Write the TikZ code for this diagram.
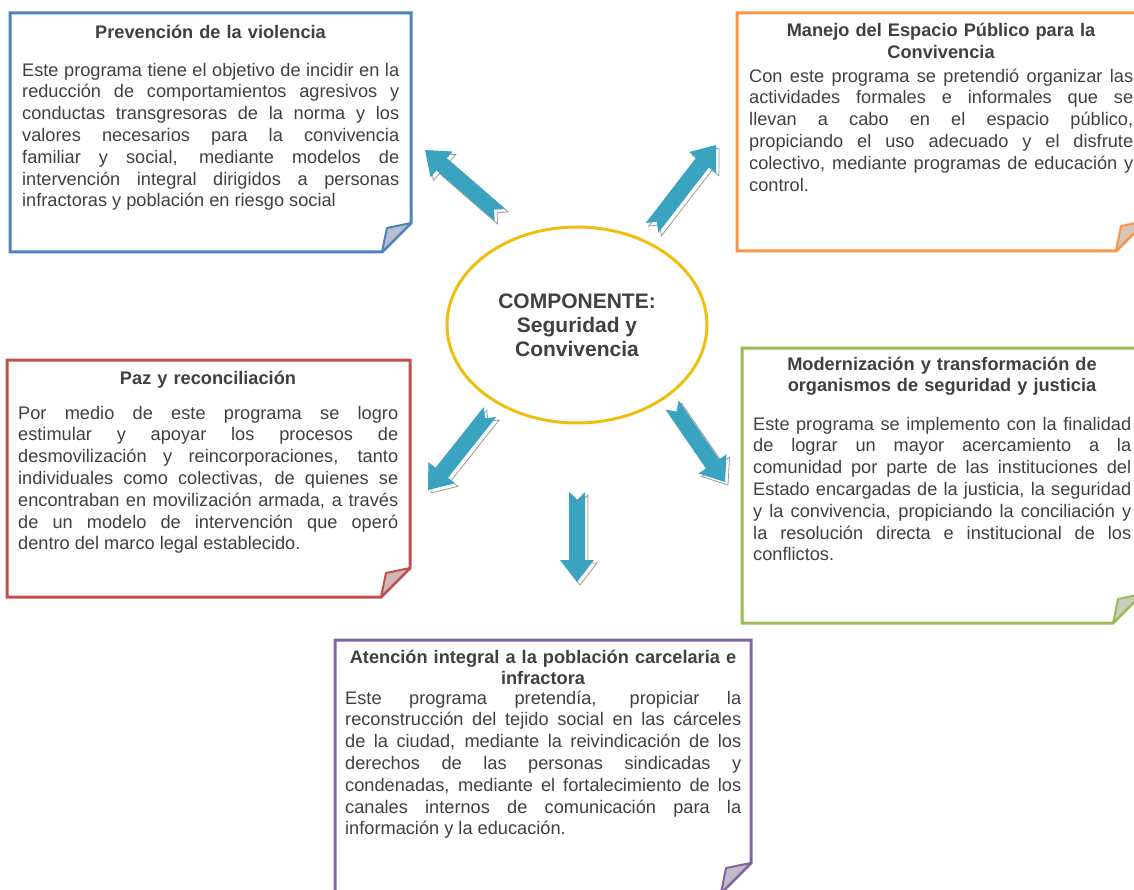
\documentclass[tikz,border=0pt]{standalone}
\usepackage{fontspec}
\setmainfont{Liberation Sans}
\usetikzlibrary{calc,shapes.geometric}

\definecolor{ink}{HTML}{404040}
\definecolor{cblue}{HTML}{4F81BD}
\definecolor{corange}{HTML}{F79646}
\definecolor{cred}{HTML}{C0504D}
\definecolor{cgreen}{HTML}{9BBB59}
\definecolor{cpurple}{HTML}{8064A2}
\definecolor{cgold}{HTML}{F0BE10}
\definecolor{cteal}{HTML}{3AA3C0}

\newcommand\cardbodyfont{\fontsize{18.2}{21.8}\selectfont\tolerance=10000\hyphenpenalty=10000\relax}
\newcommand\cardheadfont{\bfseries\fontsize{18.2}{21.8}\selectfont}

% block arrow dimensions
\newcommand\arrSW{8pt}    % half shaft width
\newcommand\arrHW{17pt}   % half head width
\newcommand\arrHL{22pt}   % head length
\newcommand\arrNotch{8pt} % depth of the tail notch

% outline of a notched block arrow from tail #1 to head #2
\newcommand\arrowoutline[3]{%
  \path[#3] ($(#1)!\arrSW!90:(#2)$) -- ($(#1b)!\arrSW!90:(#2)$) -- ($(#1b)!\arrHW!90:(#2)$)
    -- (#2) -- ($(#1b)!\arrHW!270:(#2)$) -- ($(#1b)!\arrSW!270:(#2)$)
    -- ($(#1)!\arrSW!270:(#2)$) -- (#1n) -- cycle;
}
\newcommand\flowarrow[2]{%
  \coordinate (#1b) at ($(#2)!\arrHL!(#1)$);
  \coordinate (#1n) at ($(#1)!\arrNotch!(#2)$);
  \begin{scope}[transform canvas={shift={(3,3)}}]
    \arrowoutline{#1}{#2}{arrowshadow}
  \end{scope}
  \arrowoutline{#1}{#2}{arrowbody}
}

% note card with a curled lower right corner: colour, NW corner, SE corner, fold size
\newcommand\notecard[4]{%
  \path[cardline=#1] (#2) -- (#2 -| #3) -- ($(#3)+(0,-#4)$) -- ($(#3)+(-#4,0)$) -- (#2 |- #3) -- cycle;
  \path[cardfold=#1] ($(#3)+(-#4,0)$) -- ($(#3)+(-#4+5,-#4+5)$) -- ($(#3)+(0,-#4)$) -- cycle;
}

\begin{document}
\begin{tikzpicture}[x=1pt,y=-1pt,
  cardline/.style={draw=#1, line width=3pt, fill=white, line join=miter},
  cardfold/.style={draw=#1, line width=2pt, fill=#1!60!black!35!white, line join=round},
  cardhead/.style={anchor=north, inner sep=0pt, text width=#1, align=center, font=\cardheadfont, text=ink},
  cardbody/.style={anchor=north west, inner sep=0pt, text width=#1, align=justify, font=\cardbodyfont, text=ink},
  hub/.style={ellipse, draw=cgold, line width=3pt, fill=white, minimum width=260pt, minimum height=196pt,
    inner sep=0pt, align=center, text=ink, font=\bfseries\fontsize{21}{24}\selectfont},
  arrowbody/.style={fill=cteal},
  arrowshadow/.style={fill=white, draw=black!40, line width=0.8pt},
]
\useasboundingbox (0,0) rectangle (1134,890);
\clip (0,0) rectangle (1134,890);
\fill[white] (0,0) rectangle (1134,890);

% card corners
\coordinate (pv-nw) at (10,13);   \coordinate (pv-se) at (411,252);
\coordinate (ep-nw) at (737,13);  \coordinate (ep-se) at (1146,251);
\coordinate (pz-nw) at (7,360);   \coordinate (pz-se) at (410,597);
\coordinate (mo-nw) at (742,348); \coordinate (mo-se) at (1142,623);
\coordinate (at-nw) at (335,640); \coordinate (at-se) at (751,893);

\notecard{cblue}{pv-nw}{pv-se}{29}
\notecard{corange}{ep-nw}{ep-se}{30}
\notecard{cred}{pz-nw}{pz-se}{29}
\notecard{cgreen}{mo-nw}{mo-se}{29}
\notecard{cpurple}{at-nw}{at-se}{30}

% Prevención de la violencia
\node[cardhead=377pt] (pv-title) at (210.5,22.7) {\strut Prevención de la violencia};
\node[cardbody=377pt] (pv-text) at (22,60.7) {\strut Este programa tiene el objetivo de incidir en la\linebreak
reducción de comportamientos agresivos y\linebreak
conductas transgresoras de la norma y los\linebreak
valores necesarios para la convivencia\linebreak
familiar y social, mediante modelos de\linebreak
intervención integral dirigidos a personas\linebreak
infractoras y población en riesgo social};

% Manejo del Espacio Público para la Convivencia
\node[cardhead=384pt] (ep-title) at (941,21.2) {\strut Manejo del Espacio Público para la\\Convivencia};
\node[cardbody=384pt] (ep-text) at (749,66.7) {\strut Con este programa se pretendió organizar las\linebreak
actividades formales e informales que se\linebreak
llevan a cabo en el espacio público,\linebreak
propiciando el uso adecuado y el disfrute\linebreak
colectivo, mediante programas de educación y\linebreak
control.};

% Paz y reconciliación
\node[cardhead=380pt] (pz-title) at (208,368.7) {\strut Paz y reconciliación};
\node[cardbody=380pt] (pz-text) at (18,403.7) {\strut Por medio de este programa se logro\linebreak
estimular y apoyar los procesos de\linebreak
desmovilización y reincorporaciones, tanto\linebreak
individuales como colectivas, de quienes se\linebreak
encontraban en movilización armada, a través\linebreak
de un modelo de intervención que operó\linebreak
dentro del marco legal establecido.};

% Modernización y transformación de organismos de seguridad y justicia
\node[cardhead=378pt] (mo-title) at (942,354.7) {\strut Modernización y transformación de\\organismos de seguridad y justicia};
\node[cardbody=378pt] (mo-text) at (753,414.7) {\strut Este programa se implemento con la finalidad\linebreak
de lograr un mayor acercamiento a la\linebreak
comunidad por parte de las instituciones del\linebreak
Estado encargadas de la justicia, la seguridad\linebreak
y la convivencia, propiciando la conciliación y\linebreak
la resolución directa e institucional de los\linebreak
conflictos.};

% Atención integral a la población carcelaria e infractora
\node[cardhead=396pt] (at-title) at (543,647.7) {\strut Atención integral a la población carcelaria e\\infractora};
\node[cardbody=396pt] (at-text) at (345,688.7) {\strut Este programa pretendía, propiciar la\linebreak
reconstrucción del tejido social en las cárceles\linebreak
de la ciudad, mediante la reivindicación de los\linebreak
derechos de las personas sindicadas y\linebreak
condenadas, mediante el fortalecimiento de los\linebreak
canales internos de comunicación para la\linebreak
información y la educación.};

% central component
\node[hub] (hub) at (577,325) {COMPONENTE:\\Seguridad y\\Convivencia};

% arrows from the component towards the programmes
\coordinate (a1t) at (500,215); \coordinate (a1h) at (425,150);
\coordinate (a2t) at (652,228); \coordinate (a2h) at (716,145);
\coordinate (a3t) at (490,412); \coordinate (a3h) at (428,490);
\coordinate (a4t) at (672,405); \coordinate (a4h) at (725,482);
\coordinate (a5t) at (577,492); \coordinate (a5h) at (577,582);
\flowarrow{a1t}{a1h}
\flowarrow{a2t}{a2h}
\flowarrow{a3t}{a3h}
\flowarrow{a4t}{a4h}
\flowarrow{a5t}{a5h}
\end{tikzpicture}
\end{document}
